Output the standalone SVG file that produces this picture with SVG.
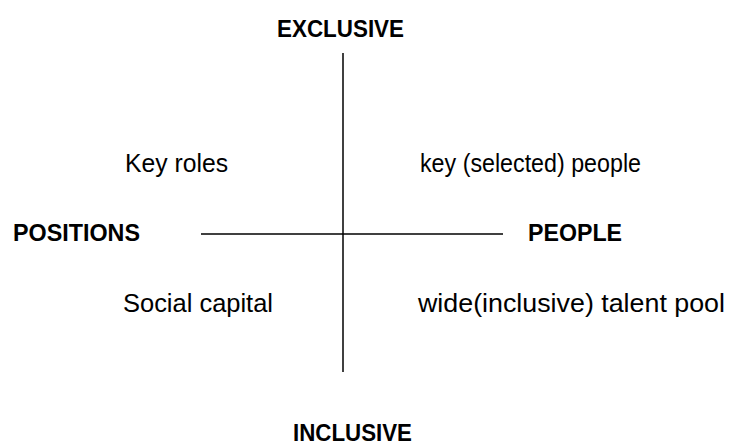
<svg xmlns="http://www.w3.org/2000/svg" width="734" height="445" viewBox="0 0 734 445">
<style>
text{font-family:"Liberation Sans",Arial,sans-serif;fill:#000}
.b{font-weight:bold;font-size:23px}
.r{font-size:25px}
line{stroke:#000;stroke-width:1.5}
</style>
<rect width="734" height="445" fill="#fff"/>
<g id="axes">
<line x1="343" y1="53" x2="343" y2="372"/>
<line x1="201" y1="234" x2="503" y2="234"/>
</g>
<g id="exclusive"><text class="b" x="277" y="37" textLength="127" lengthAdjust="spacingAndGlyphs">EXCLUSIVE</text></g>
<g id="inclusive"><text class="b" x="293" y="441" textLength="119" lengthAdjust="spacingAndGlyphs">INCLUSIVE</text></g>
<g id="positions"><text class="b" x="13" y="241" textLength="127" lengthAdjust="spacingAndGlyphs">POSITIONS</text></g>
<g id="people"><text class="b" x="528" y="241" textLength="94" lengthAdjust="spacingAndGlyphs">PEOPLE</text></g>
<g id="key-roles"><text class="r" x="125" y="172" textLength="103" lengthAdjust="spacingAndGlyphs">Key roles</text></g>
<g id="key-people"><text class="r" x="420" y="172" textLength="221" lengthAdjust="spacingAndGlyphs">key (selected) people</text></g>
<g id="social-capital"><text class="r" x="123" y="312" textLength="150" lengthAdjust="spacingAndGlyphs">Social capital</text></g>
<g id="talent-pool"><text class="r" x="418" y="312" textLength="307" lengthAdjust="spacingAndGlyphs">wide(inclusive) talent pool</text></g>
</svg>
